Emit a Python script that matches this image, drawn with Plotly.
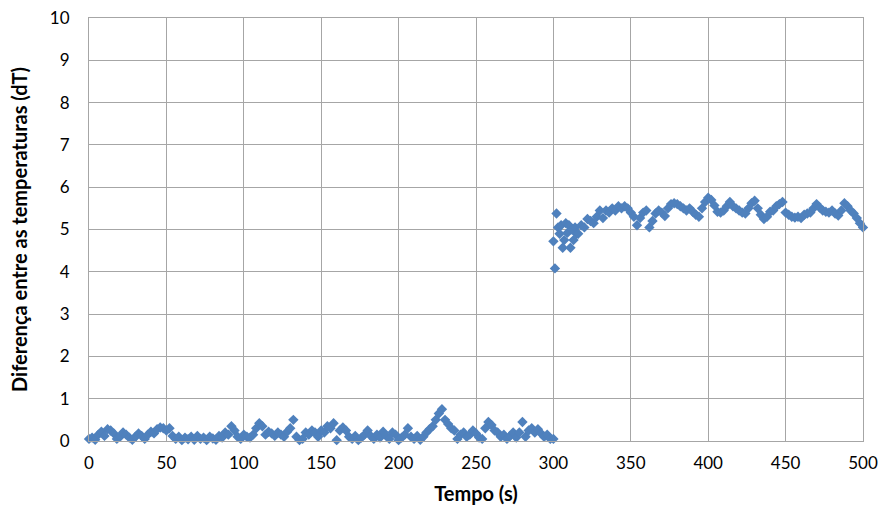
import plotly.graph_objects as go

# Low segment: t = 0..300 s, every 2 s
t_low = list(range(0, 302, 2))
dT_low = [
    0.05, 0.08, 0.03, 0.15, 0.22, 0.12, 0.28, 0.25, 0.18, 0.05,
    0.10, 0.20, 0.15, 0.08, 0.03, 0.10, 0.18, 0.12, 0.05, 0.15,
    0.22, 0.18, 0.28, 0.32, 0.30, 0.25, 0.30, 0.12, 0.05, 0.10,
    0.02, 0.08, 0.04, 0.10, 0.03, 0.12, 0.05, 0.08, 0.02, 0.10,
    0.06, 0.03, 0.12, 0.08, 0.20, 0.15, 0.35, 0.25, 0.10, 0.05,
    0.15, 0.10, 0.08, 0.15, 0.30, 0.42, 0.35, 0.15, 0.22, 0.18,
    0.12, 0.20, 0.15, 0.10, 0.22, 0.30, 0.50, 0.10, 0.02, 0.05,
    0.20, 0.15, 0.25, 0.20, 0.10, 0.25, 0.20, 0.35, 0.30, 0.42,
    0.02, 0.25, 0.32, 0.25, 0.10, 0.05, 0.12, 0.02, 0.08, 0.15,
    0.25, 0.12, 0.05, 0.15, 0.08, 0.22, 0.12, 0.05, 0.20, 0.15,
    0.02, 0.08, 0.15, 0.30, 0.10, 0.05, 0.12, 0.03, 0.10, 0.20,
    0.28, 0.35, 0.50, 0.65, 0.75, 0.50, 0.40, 0.30, 0.25, 0.05,
    0.15, 0.20, 0.10, 0.15, 0.25, 0.18, 0.08, 0.05, 0.30, 0.45,
    0.38, 0.25, 0.20, 0.10, 0.15, 0.05, 0.12, 0.20, 0.08, 0.20,
    0.45, 0.10, 0.25, 0.30, 0.20, 0.28, 0.18, 0.10, 0.15, 0.05,
    0.05,
]

# High segment: t = 300..500 s
t_high = [
    300, 301, 302, 303, 304, 305, 306, 307, 308, 309, 310, 311, 312, 313,
    314, 315, 316, 318, 320, 322, 324, 326, 328, 330, 332, 334, 336, 338,
    340, 342, 344, 346, 348, 350, 352, 354, 356, 358, 360, 362, 364, 366,
    368, 370, 372, 374, 376, 378, 380, 382, 384, 386, 388, 390, 392, 394,
    396, 398, 400, 402, 404, 406, 408, 410, 412, 414, 416, 418, 420, 422,
    424, 426, 428, 430, 432, 434, 436, 438, 440, 442, 444, 446, 448, 450,
    452, 454, 456, 458, 460, 462, 464, 466, 468, 470, 472, 474, 476, 478,
    480, 482, 484, 486, 488, 490, 492, 494, 496, 498, 500,
]
dT_high = [
    4.72, 4.08, 5.38, 5.05, 4.90, 5.10, 4.57, 4.75, 5.15, 4.92, 5.10, 4.57, 5.00, 4.75,
    5.05, 4.90, 4.90, 5.10, 5.05, 5.25, 5.20, 5.15, 5.30, 5.45, 5.27, 5.45, 5.40, 5.50,
    5.45, 5.55, 5.50, 5.55, 5.50, 5.40, 5.30, 5.10, 5.27, 5.40, 5.45, 5.05, 5.20, 5.38,
    5.45, 5.40, 5.32, 5.50, 5.60, 5.62, 5.60, 5.55, 5.50, 5.45, 5.50, 5.42, 5.35, 5.30,
    5.50, 5.65, 5.75, 5.70, 5.57, 5.42, 5.40, 5.45, 5.55, 5.65, 5.55, 5.50, 5.45, 5.40,
    5.38, 5.50, 5.62, 5.68, 5.50, 5.35, 5.25, 5.30, 5.42, 5.45, 5.55, 5.60, 5.65, 5.40,
    5.35, 5.30, 5.28, 5.30, 5.27, 5.35, 5.38, 5.40, 5.50, 5.60, 5.52, 5.45, 5.42, 5.40,
    5.45, 5.38, 5.33, 5.45, 5.62, 5.55, 5.45, 5.38, 5.27, 5.15, 5.05,
]

x_ticks = list(range(0, 501, 50))
y_ticks = list(range(0, 11, 1))

t_all = t_low + t_high
dT_all = dT_low + dT_high

FONT = "Lato"
GRID = "#A6A6A6"

fig = go.Figure(
    go.Scatter(
        x=t_all, y=dT_all, mode="markers",
        marker=dict(symbol="diamond", size=8, color="#4F81BD", line=dict(width=0)),
        showlegend=False, cliponaxis=False,
    )
)

fig.update_layout(
    width=880, height=514,
    margin=dict(l=89, r=17, t=18, b=73),
    paper_bgcolor="white", plot_bgcolor="white",
    font=dict(family=FONT, size=17, color="#000000"),
)
fig.update_xaxes(
    range=[0, 500], tickvals=x_ticks, ticktext=[str(v) for v in x_ticks],
    showgrid=True, gridcolor=GRID, gridwidth=1,
    showline=True, linecolor=GRID, linewidth=1, mirror=True,
    zeroline=False, ticks="", ticklabelstandoff=7, automargin=False,
    title=dict(text="<b>Tempo (s)</b>", font=dict(size=20, family=FONT), standoff=14),
)
fig.update_yaxes(
    range=[0, 10], tickvals=y_ticks, ticktext=[str(v) for v in y_ticks],
    showgrid=True, gridcolor=GRID, gridwidth=1,
    showline=True, linecolor=GRID, linewidth=1, mirror=True,
    zeroline=False, ticks="", ticklabelstandoff=15, automargin=False,
    title=dict(text="<b>Diferença entre as temperaturas (dT)</b>", font=dict(size=20, family=FONT), standoff=16),
)

fig.write_html("out.html")
